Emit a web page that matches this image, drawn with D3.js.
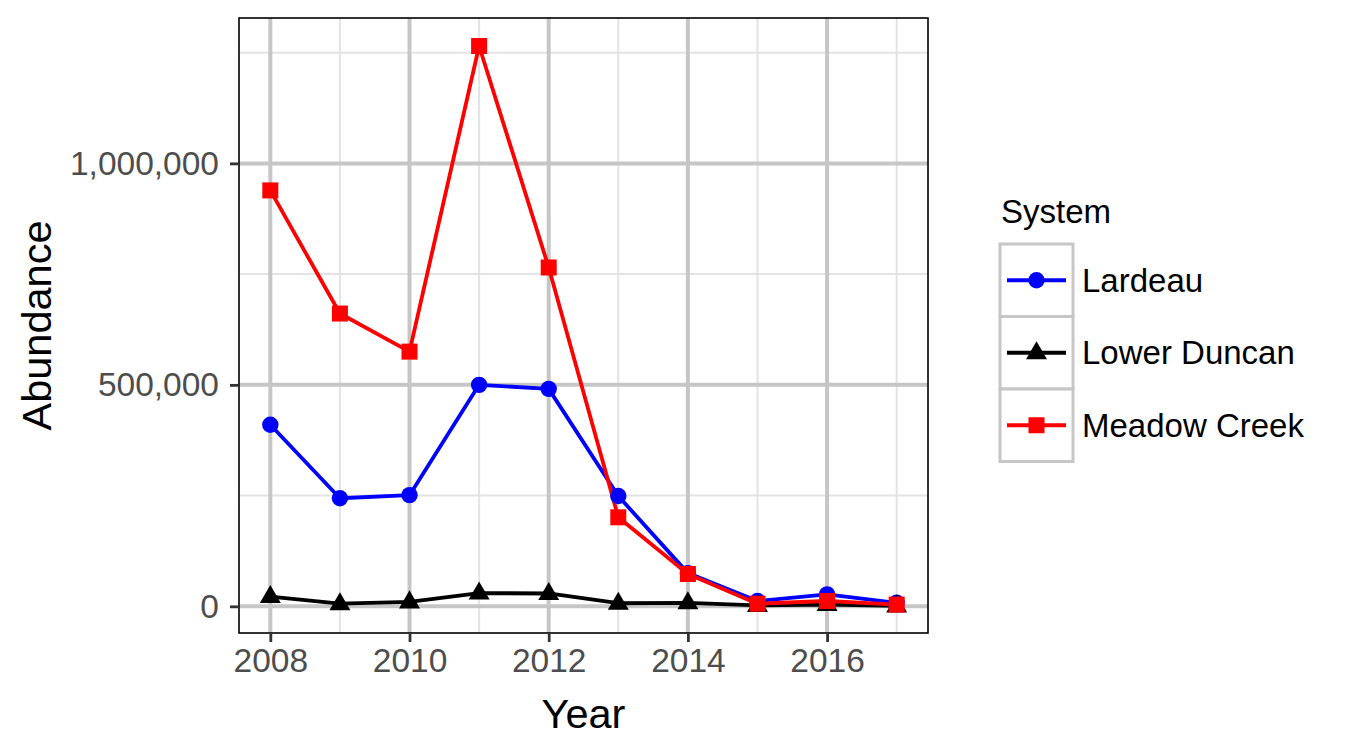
<!DOCTYPE html>
<html>
<head>
<meta charset="utf-8">
<script src="https://cdn.jsdelivr.net/npm/d3@7"></script>
<style>
  html, body { margin: 0; padding: 0; background: #fff; }
  svg { display: block; font-family: "Liberation Sans", Arial, sans-serif; }
</style>
</head>
<body>
<svg id="chart" width="1350" height="749"></svg>
<script>
const years = [2008, 2009, 2010, 2011, 2012, 2013, 2014, 2015, 2016, 2017];
const lardeau = [410000, 244000, 251000, 500000, 491000, 249000, 75000, 12000, 27000, 8000];
const lowerDuncan = [22000, 6000, 10000, 30000, 29000, 7000, 8000, 2000, 4000, 1000];
const meadowCreek = [939000, 661000, 575000, 1265000, 765000, 201000, 73000, 6000, 12000, 4000];
const seriesNames = ["Lardeau", "Lower Duncan", "Meadow Creek"];
const seriesColors = ["#0000FF", "#000000", "#FF0000"];
const seriesShapes = ["circle", "triangle", "square"];
const xTicks = [2008, 2010, 2012, 2014, 2016];
const xMinor = [2009, 2011, 2013, 2015, 2017];
const yTicks = [0, 500000, 1000000];
const yMinor = [250000, 750000, 1250000];

const series = seriesNames.map((name, i) => ({
  name, color: seriesColors[i], shape: seriesShapes[i],
  values: [lardeau, lowerDuncan, meadowCreek][i].map((v, j) => ({x: years[j], y: v}))
}));

const svg = d3.select("#chart");
const L = 239, R = 928, T = 18, B = 633;

const allY = [].concat(lardeau, lowerDuncan, meadowCreek);
const yMin = d3.min(allY), yMax = d3.max(allY);
const yPad = (yMax - yMin) * 0.05;
const x = d3.scaleLinear().domain([2008 - 0.45, 2017 + 0.45]).range([L, R]);
const y = d3.scaleLinear().domain([yMin - yPad + 2000, yMax + yPad]).range([B, T]);

const grid = svg.append("g");
grid.selectAll(".mx").data(xMinor).enter().append("line")
  .attr("x1", d => x(d)).attr("x2", d => x(d)).attr("y1", T).attr("y2", B)
  .attr("stroke", "#E3E3E3").attr("stroke-width", 2);
grid.selectAll(".my").data(yMinor).enter().append("line")
  .attr("x1", L).attr("x2", R).attr("y1", d => y(d)).attr("y2", d => y(d))
  .attr("stroke", "#E3E3E3").attr("stroke-width", 2);
grid.selectAll(".Mx").data(xTicks).enter().append("line")
  .attr("x1", d => x(d)).attr("x2", d => x(d)).attr("y1", T).attr("y2", B)
  .attr("stroke", "#C6C6C6").attr("stroke-width", 4);
grid.selectAll(".My").data(yTicks).enter().append("line")
  .attr("x1", L).attr("x2", R).attr("y1", d => y(d)).attr("y2", d => y(d))
  .attr("stroke", "#C6C6C6").attr("stroke-width", 4);

const line = d3.line().x(d => x(d.x)).y(d => y(d.y));
svg.append("g").selectAll("path").data(series).enter().append("path")
  .attr("d", d => line(d.values)).attr("fill", "none")
  .attr("stroke", d => d.color).attr("stroke-width", 3.8).attr("stroke-linejoin", "round");

function drawMarker(g, shape, color, cx, cy) {
  if (shape === "circle") {
    g.append("circle").attr("cx", cx).attr("cy", cy).attr("r", 8.2).attr("fill", color);
  } else if (shape === "square") {
    const h = 8;
    g.append("rect").attr("x", cx - h).attr("y", cy - h).attr("width", 2 * h).attr("height", 2 * h).attr("fill", color);
  } else {
    const a = 10.5;
    const pts = [[cx, cy - a * 1.1], [cx - a, cy + a * 0.62], [cx + a, cy + a * 0.62]];
    g.append("path").attr("d", "M" + pts.map(p => p.join(",")).join("L") + "Z").attr("fill", color);
  }
}
const mg = svg.append("g");
series.forEach(s => s.values.forEach(v => drawMarker(mg, s.shape, s.color, x(v.x), y(v.y))));

svg.append("rect").attr("x", L).attr("y", T).attr("width", R - L).attr("height", B - T)
  .attr("fill", "none").attr("stroke", "#000").attr("stroke-width", 1.6);

const xAxis = d3.axisBottom(x).tickValues(xTicks).tickFormat(d3.format("d")).tickSize(9).tickPadding(6);
const gx = svg.append("g").attr("transform", `translate(0,${B})`).call(xAxis);
const yAxis = d3.axisLeft(y).tickValues(yTicks).tickFormat(d3.format(",")).tickSize(9).tickPadding(11);
const gy = svg.append("g").attr("transform", `translate(${L},0)`).call(yAxis);
[gx, gy].forEach(g => {
  g.select(".domain").remove();
  g.selectAll(".tick line").attr("stroke", "#333").attr("stroke-width", 2.8);
  g.selectAll(".tick text").attr("fill", "#4D4D4D").style("font-size", "33.5px")
    .style("font-family", "'Liberation Sans', Arial, sans-serif");
});
gx.selectAll(".tick text").attr("dy", "0.71em");

svg.append("text").attr("x", (L + R) / 2).attr("y", 728).attr("text-anchor", "middle")
  .style("font-size", "41.5px").attr("fill", "#000").text("Year");
svg.append("text").attr("transform", `translate(51,${(T + B) / 2}) rotate(-90)`)
  .attr("text-anchor", "middle").style("font-size", "41.5px").attr("fill", "#000").text("Abundance");

const lg = svg.append("g");
lg.append("text").attr("x", 1001).attr("y", 223).style("font-size", "33px").attr("fill", "#000").text("System");
const keyX = 1000, keyW = 73, keyH = 72.5, keyY0 = 244;
series.forEach((s, i) => {
  const ky = keyY0 + i * keyH;
  lg.append("rect").attr("x", keyX).attr("y", ky).attr("width", keyW).attr("height", keyH)
    .attr("fill", "#fff").attr("stroke", "#C6C6C6").attr("stroke-width", 3);
});
series.forEach((s, i) => {
  const cy = keyY0 + i * keyH + keyH / 2;
  lg.append("line").attr("x1", keyX + 7).attr("x2", keyX + keyW - 7).attr("y1", cy).attr("y2", cy)
    .attr("stroke", s.color).attr("stroke-width", 3.8);
  drawMarker(lg, s.shape, s.color, keyX + keyW / 2, cy);
  lg.append("text").attr("x", 1082).attr("y", cy).attr("dy", "0.35em")
    .style("font-size", "33px").attr("fill", "#000").text(s.name);
});
</script>
</body>
</html>
